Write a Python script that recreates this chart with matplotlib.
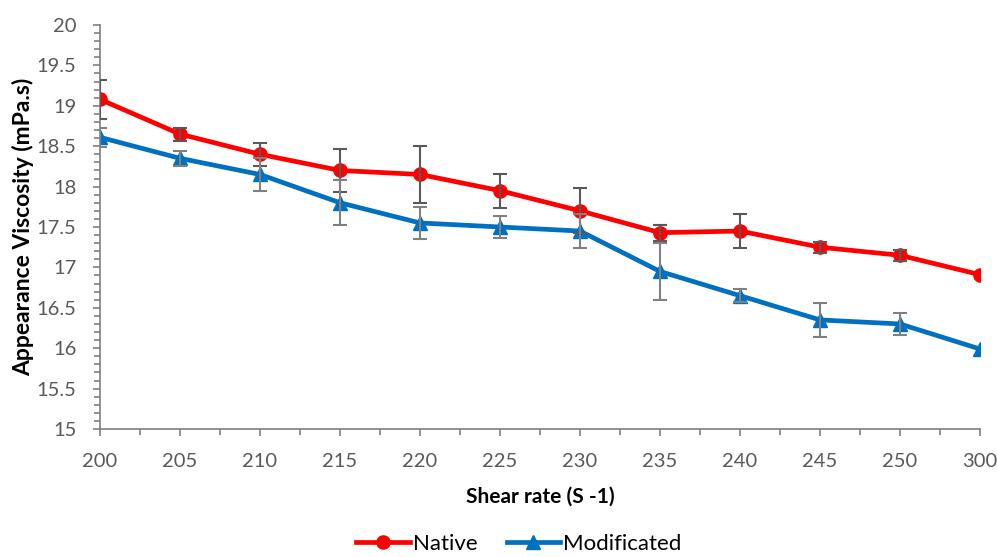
import numpy as np
import matplotlib
matplotlib.use('Agg')
import matplotlib.pyplot as plt
from matplotlib.ticker import MultipleLocator, FormatStrFormatter

plt.rcParams['font.family'] = ['Lato', 'DejaVu Sans']

shear = ['200', '205', '210', '215', '220', '225', '230', '235', '240', '245', '250', '300']
native = [19.08, 18.65, 18.40, 18.20, 18.15, 17.95, 17.70, 17.43, 17.45, 17.25, 17.15, 16.91]
native_err = [0.24, 0.08, 0.14, 0.27, 0.35, 0.21, 0.28, 0.10, 0.21, 0.07, 0.07, 0.0]
modif = [18.61, 18.35, 18.15, 17.80, 17.55, 17.50, 17.45, 16.95, 16.65, 16.35, 16.30, 15.99]
modif_err = [0.12, 0.09, 0.20, 0.28, 0.20, 0.13, 0.21, 0.35, 0.08, 0.21, 0.14, 0.0]

x = np.arange(len(shear))

fig = plt.figure(figsize=(9.98, 5.57), dpi=100)
ax = fig.add_axes([100/998, 1 - 429/557, 880/998, 404/557])

ax.plot(x, native, color='#ff0000', lw=3.4, marker='o', markersize=9.5, label='Native', zorder=3)
ax.plot(x, modif, color='#0070c0', lw=3.4, marker='^', markersize=9.5, label='Modificated', zorder=3)

ax.errorbar(x[:-1], native[:-1], yerr=native_err[:-1], fmt='none', ecolor='#595959',
            elinewidth=1.5, capsize=5, capthick=1.5, zorder=4)
ax.errorbar(x[:-1], modif[:-1], yerr=modif_err[:-1], fmt='none', ecolor='#808080',
            elinewidth=1.5, capsize=5, capthick=1.5, zorder=4)

ax.set_xlim(0, len(shear) - 1)
ax.set_ylim(15, 20)
ax.set_xticks(x)
ax.set_xticklabels(shear)
ax.xaxis.set_minor_locator(MultipleLocator(0.5))
ax.yaxis.set_major_locator(MultipleLocator(0.5))
ax.yaxis.set_minor_locator(MultipleLocator(0.1))
ax.yaxis.set_major_formatter(FormatStrFormatter('%g'))

for s in ['top', 'right']:
    ax.spines[s].set_visible(False)
for s in ['left', 'bottom']:
    ax.spines[s].set_color('#7f7f7f')
    ax.spines[s].set_linewidth(1.2)

ax.tick_params(which='major', length=5, width=1.2, color='#7f7f7f', labelsize=14.5,
               labelcolor='#595959')
ax.tick_params(axis='x', which='major', pad=12)
ax.tick_params(axis='y', which='major', pad=12)
ax.tick_params(which='minor', length=4, width=1.2, color='#7f7f7f')

ax.set_xlabel('Shear rate (S -1)', fontsize=15, fontweight='bold', labelpad=12)
ax.set_ylabel('Appearance Viscosity (mPa.s)', fontsize=16.5, fontweight='bold', labelpad=2)

fig.legend(loc='lower center', bbox_to_anchor=(0.52, -0.03), ncol=2, frameon=False,
           fontsize=16, handlelength=2.4, columnspacing=1.3, handletextpad=0.15)

fig.savefig('out.png', dpi=100)
